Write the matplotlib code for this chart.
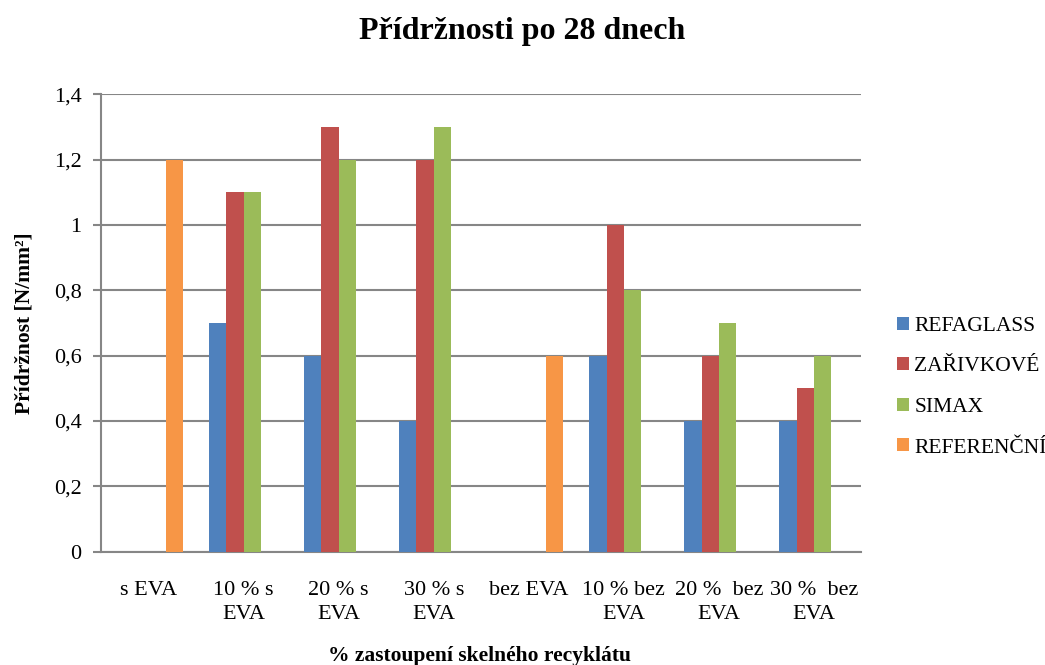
import numpy as np
import matplotlib
matplotlib.use('Agg')
import matplotlib.pyplot as plt

plt.rcParams['font.family'] = ['Liberation Serif', 'DejaVu Serif']

# data
categories = ['s EVA', '10 % s\nEVA', '20 % s\nEVA', '30 % s\nEVA',
              'bez EVA', '10 % bez\nEVA', '20 %  bez\nEVA', '30 %  bez\nEVA']
series_names = ['REFAGLASS', 'ZAŘIVKOVÉ', 'SIMAX', 'REFERENČNÍ']
refaglass = [np.nan, 0.7, 0.6, 0.4, np.nan, 0.6, 0.4, 0.4]
zarivkove = [np.nan, 1.1, 1.3, 1.2, np.nan, 1.0, 0.6, 0.5]
simax = [np.nan, 1.1, 1.2, 1.3, np.nan, 0.8, 0.7, 0.6]
referencni = [1.2, np.nan, np.nan, np.nan, 0.6, np.nan, np.nan, np.nan]
yticks = [0, 0.2, 0.4, 0.6, 0.8, 1.0, 1.2, 1.4]
ytick_labels = ['0', '0,2', '0,4', '0,6', '0,8', '1', '1,2', '1,4']

colors = ['#4F81BD', '#C0504D', '#9BBB59', '#F79646']
grid_col = '#868686'

fig = plt.figure(figsize=(10.45, 6.65), dpi=100)
ax = fig.add_axes([0.0967, 0.1704, 0.7277, 0.6878])

x = np.arange(len(categories))
w = 1 / 5.5
all_series = [refaglass, zarivkove, simax, referencni]
for i, vals in enumerate(all_series):
    ax.bar(x + (i - 1.5) * w, vals, w, color=colors[i], label=series_names[i],
           zorder=3)

ax.set_xlim(-0.5, len(categories) - 0.5)
ax.set_ylim(0, 1.4)
ax.set_yticks(yticks)
ax.set_yticklabels(ytick_labels)
ax.set_xticks(x)
ax.set_xticklabels(categories, linespacing=1.4)
ax.yaxis.grid(True, color=grid_col, linewidth=1.5, zorder=0)
ax.tick_params(axis='y', length=6, width=1.5, color=grid_col, labelsize=16, pad=8)
ax.tick_params(axis='x', length=0, labelsize=16, pad=21)
for s in ['top', 'right']:
    ax.spines[s].set_visible(False)
for s in ['left', 'bottom']:
    ax.spines[s].set_color(grid_col)
    ax.spines[s].set_linewidth(1.5)

ax.set_ylabel('Přídržnost [N/mm²]', fontsize=15.5, fontweight='bold', labelpad=14)
fig.text(0.4585, 0.006, '% zastoupení skelného recyklátu', fontsize=15.5,
         fontweight='bold', ha='center', va='baseline')
fig.text(0.5, 1 - 39 / 665, 'Přídržnosti po 28 dnech', fontsize=23,
         fontweight='bold', ha='center', va='baseline')

ax.legend(loc='center left', bbox_to_anchor=(0.848, 0.418),
          bbox_transform=fig.transFigure, frameon=False, fontsize=15.5,
          handlelength=0.55, handleheight=0.55, handletextpad=0.25,
          labelspacing=1.0, borderpad=0)

fig.savefig('out.png', dpi=100)
